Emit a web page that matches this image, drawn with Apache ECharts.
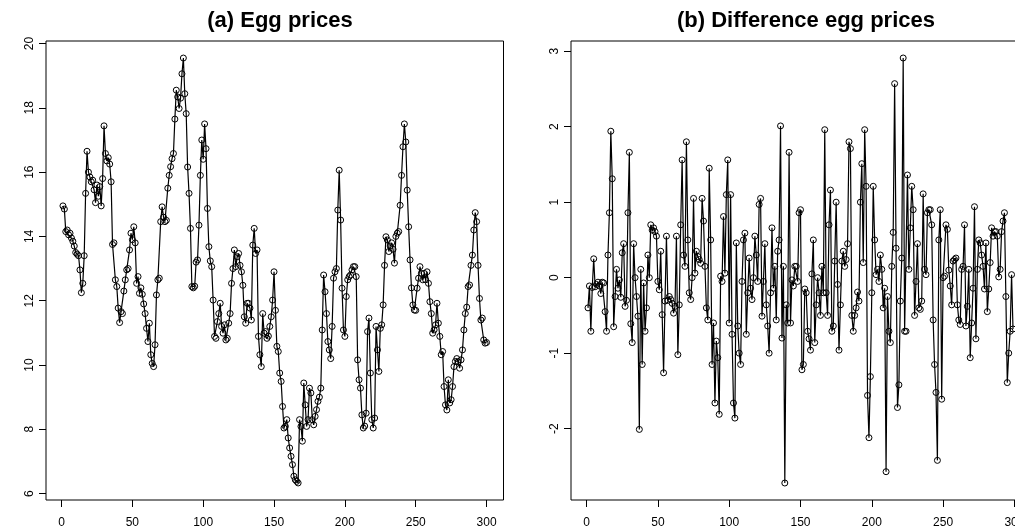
<!DOCTYPE html>
<html>
<head>
<meta charset="utf-8">
<script src="https://cdn.jsdelivr.net/npm/echarts@6/dist/echarts.min.js"></script>
<style>
html, body { margin: 0; padding: 0; background: #fff; }
#main { width: 1015px; height: 529px; }
</style>
</head>
<body>
<div id="main"></div>
<script>
// (a) egg prices, one value per period 1..300
const eggPrices = [
  14.95, 14.85, 14.15, 14.2, 14.05, 14.1, 13.95, 13.85, 13.7, 13.5,
  13.45, 13.4, 12.96, 12.25, 12.54, 13.4, 15.34, 16.65, 16.0, 15.85,
  15.7, 15.75, 15.45, 15.05, 15.6, 15.25, 15.55, 14.95, 15.8, 17.44,
  16.58, 16.35, 16.45, 16.25, 15.7, 13.75, 13.8, 12.65, 12.44, 11.77,
  11.32, 11.66, 11.6, 12.3, 12.65, 12.96, 13.0, 13.58, 14.1, 13.9,
  14.3, 13.8, 12.54, 12.75, 12.23, 12.4, 12.2, 11.9, 11.6, 11.14,
  10.73, 11.3, 10.32, 10.05, 9.95, 10.63, 12.18, 12.65, 12.7, 14.46,
  14.92, 14.6, 14.46, 14.5, 15.5, 15.9, 16.17, 16.42, 16.58, 17.65,
  18.55, 18.34, 17.98, 18.3, 19.06, 19.55, 18.44, 17.82, 16.16, 15.34,
  14.25, 12.44, 12.4, 12.45, 13.2, 13.27, 14.35, 15.9, 17.0, 16.4,
  17.5, 16.73, 14.87, 13.68, 13.24, 13.06, 12.02, 10.89, 10.83, 11.35,
  11.6, 11.92, 11.2, 10.99, 11.25, 10.78, 10.83, 11.3, 11.6, 12.54,
  13.0, 13.58, 13.06, 13.37, 13.47, 13.1, 12.9, 12.48, 11.5, 11.3,
  11.92, 11.92, 11.77, 11.4, 13.73, 14.25, 13.47, 13.58, 10.89, 10.32,
  9.95, 11.6, 10.99, 11.04, 10.83, 10.9, 11.2, 11.5, 12.02, 12.9,
  11.7, 10.58, 10.42, 9.75, 9.49, 8.71, 8.04, 8.09, 8.3, 7.73,
  7.42, 7.16, 6.9, 6.54, 6.43, 6.38, 6.33, 8.3, 8.09, 7.63,
  9.44, 8.76, 8.09, 8.3, 9.28, 9.13, 8.3, 8.14, 8.4, 8.61,
  8.87, 9.0, 9.28, 11.09, 12.8, 12.28, 11.6, 10.73, 10.47, 10.2,
  11.2, 12.7, 12.9, 13.0, 14.82, 16.06, 14.51, 12.39, 11.09, 10.89,
  12.13, 12.65, 12.75, 12.8, 12.96, 13.06, 13.06, 12.75, 10.16, 9.54,
  9.28, 8.45, 8.04, 8.1, 8.5, 11.04, 11.46, 9.75, 8.3, 8.04,
  8.35, 11.2, 10.47, 9.8, 11.14, 11.25, 11.87, 13.1, 13.99, 13.89,
  13.53, 13.7, 13.8, 13.6, 13.17, 14.0, 14.1, 14.15, 14.97, 15.9,
  16.79, 17.5, 16.94, 15.44, 14.3, 13.27, 12.4, 11.87, 11.71, 11.7,
  12.39, 12.7, 13.06, 12.85, 12.65, 12.85, 12.65, 12.9, 12.54, 11.97,
  11.6, 10.99, 11.09, 11.25, 11.92, 11.3, 10.89, 10.32, 10.42, 9.33,
  8.76, 8.6, 9.54, 8.82, 8.92, 9.33, 9.95, 10.11, 10.2, 10.1,
  9.9, 10.16, 10.47, 11.09, 11.6, 11.8, 12.44, 12.49, 13.1, 13.42,
  14.2, 14.74, 14.46, 13.1, 12.07, 11.4, 11.46, 10.78, 10.68, 10.7
];

// (b) differenced egg prices, periods 1..299
const eggDiff = [
  -0.40, -0.11, -0.71, -0.13, 0.25, -0.12, -0.09, -0.06, -0.11, -0.21,
  -0.06, -0.07, -0.45, -0.71, 0.30, 0.86, 1.94, 1.31, -0.65, -0.25,
  0.11, -0.14, -0.03, -0.26, 0.33, 0.45, -0.38, -0.30, 0.86, 1.66,
  -0.61, -0.86, 0.45, 0.00, -0.25, -0.51, -2.01, 0.11, -1.15, -0.07,
  -0.71, -0.40, 0.30, 0.00, 0.70, 0.63, 0.66, 0.61, 0.55, -0.05,
  -0.16, 0.35, -0.49, -1.26, -0.31, 0.55, -0.30, -0.25, -0.29, -0.34,
  -0.47, -0.38, 0.55, -1.02, -0.36, 0.70, 1.56, 0.30, 0.15, 1.80,
  0.50, -0.20, -0.29, 0.00, 1.05, 0.06, 0.35, 0.28, 0.24, 0.19,
  1.05, 0.75, 0.15, -0.40, -0.56, 1.45, 0.50, -1.15, -0.60, -1.66,
  -0.84, -1.06, -1.81, 0.02, -0.05, 0.81, 0.06, 1.10, 1.56, -0.60,
  1.10, -0.75, -1.66, -1.86, 0.46, -0.64, -1.00, -1.15, -0.05, 0.50,
  0.59, -0.75, -0.20, 0.26, -0.14, -0.29, 0.00, 0.55, 0.30, -0.05,
  0.97, 1.05, -0.51, -0.05, 0.45, -0.36, -0.64, -1.00, -0.20, 0.66,
  -0.14, 0.15, -0.56, 0.35, 0.50, 2.01, -0.80, 0.15, -2.72, -0.36,
  -0.60, 1.66, -0.60, -0.03, -0.11, 0.15, 0.15, -0.05, 0.86, 0.90,
  -1.22, -1.15, -0.15, -0.20, -0.71, -0.81, -0.96, 0.05, 0.50, -0.86,
  -0.36, 0.00, -0.20, -0.50, 0.15, -0.20, 1.96, -0.20, -0.50, 0.70,
  1.16, -0.71, -0.64, 0.22, 1.00, -0.09, -0.96, -0.36, 0.22, 0.35,
  0.15, 0.24, 0.45, 1.80, 1.71, -0.50, -0.71, -0.50, -0.40, -0.19,
  -0.31, 1.00, 1.51, 0.20, 1.96, 1.21, -1.56, -2.12, -1.31, -0.20,
  1.21, 0.50, 0.04, 0.11, -0.05, 0.30, 0.11, -0.40, -0.14, -2.57,
  -0.25, -0.71, -0.86, 0.15, 0.60, 2.57, 0.39, -1.72, -1.42, -0.31,
  0.26, 2.91, -0.71, -0.71, 1.36, 0.11, 0.66, 1.21, 0.90, -0.50,
  -0.05, 0.45, -0.40, -0.42, -0.31, 1.11, 0.11, 0.04, 0.86, 0.90,
  0.90, 0.70, -0.56, -1.15, -1.52, -2.42, 0.50, 0.90, -1.61, 0.00,
  0.02, 0.70, 0.64, 0.10, -0.11, -0.36, 0.22, 0.24, 0.26, -0.36,
  -0.56, -0.62, 0.11, 0.15, 0.70, -0.64, -0.38, 0.11, -1.06, -0.60,
  -0.14, 0.94, -0.81, 0.11, 0.50, 0.46, 0.30, 0.15, -0.15, 0.46,
  -0.45, -0.15, 0.20, 0.66, 0.55, 0.61, 0.61, 0.55, 0.01, 0.11,
  0.61, 0.75, 0.86, -0.25, -1.39, -1.00, -0.71, 0.04, -0.68
];

const xTicks = [0, 50, 100, 150, 200, 250, 300];
const leftTicks = [6, 8, 10, 12, 14, 16, 18, 20];
const rightTicks = [-2, -1, 0, 1, 2, 3];

// pair each value with its period number
function withIndex(arr) {
  return arr.map((v, i) => [i + 1, v]);
}

const font = 'Liberation Sans, Arial, sans-serif';

function xAxisOpt(grid, min, max) {
  return {
    gridIndex: grid, type: 'value', min: min, max: max,
    axisLine: { show: false, onZero: false },
    splitLine: { show: false },
    axisTick: { show: true, length: 7, customValues: xTicks, lineStyle: { color: '#000', width: 1 } },
    axisLabel: { customValues: xTicks, margin: 17, color: '#000', fontSize: 12, fontFamily: font }
  };
}

function yAxisOpt(grid, min, max, ticks) {
  return {
    gridIndex: grid, type: 'value', min: min, max: max,
    axisLine: { show: false, onZero: false },
    splitLine: { show: false },
    axisTick: { show: true, length: 7, customValues: ticks, lineStyle: { color: '#000', width: 1 } },
    axisLabel: { customValues: ticks, rotate: 90, margin: 10, color: '#000', fontSize: 12, fontFamily: font }
  };
}

function seriesOpt(idx, data) {
  return {
    type: 'line', xAxisIndex: idx, yAxisIndex: idx,
    data: withIndex(data),
    symbol: 'circle', symbolSize: 6, showAllSymbol: true,
    lineStyle: { color: '#000', width: 1.2 },
    itemStyle: { color: 'rgba(0,0,0,0)', borderColor: '#000', borderWidth: 1 },
    silent: true
  };
}

const chart = echarts.init(document.getElementById('main'));
chart.setOption({
  animation: false,
  backgroundColor: '#fff',
  title: [
    { text: '(a) Egg prices', left: 275, top: 5, textAlign: 'center',
      textStyle: { fontFamily: font, fontWeight: 'bold', fontSize: 22, color: '#000' } },
    { text: '(b) Difference egg prices', left: 801, top: 5, textAlign: 'center',
      textStyle: { fontFamily: font, fontWeight: 'bold', fontSize: 22, color: '#000' } }
  ],
  grid: [
    { left: 46, top: 41, width: 457.5, height: 459, outerBoundsMode: 'none',
      show: true, borderColor: '#000', borderWidth: 1, backgroundColor: 'transparent' },
    { left: 571, top: 41, width: 459, height: 459, outerBoundsMode: 'none',
      show: true, borderColor: '#000', borderWidth: 1, backgroundColor: 'transparent' }
  ],
  xAxis: [
    xAxisOpt(0, -10.96, 311.96),
    xAxisOpt(1, -10.92, 310.92)
  ],
  yAxis: [
    yAxisOpt(0, 5.80, 20.08, leftTicks),
    yAxisOpt(1, -2.945, 3.135, rightTicks)
  ],
  series: [
    seriesOpt(0, eggPrices),
    seriesOpt(1, eggDiff)
  ]
});
</script>
</body>
</html>
